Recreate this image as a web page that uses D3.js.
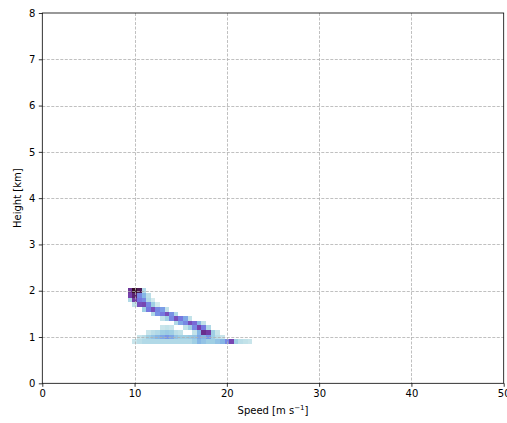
<!DOCTYPE html>
<html><head><meta charset="utf-8">
<script src="https://cdn.jsdelivr.net/npm/d3@7"></script>
<style>html,body{margin:0;padding:0;background:#fff;overflow:hidden}svg{display:block}</style>
</head><body>
<svg id="chart" width="507" height="423"></svg>
<script>
// ---- data ----
const speedBins = [9.5,10,10.5,11,11.5,12,12.5,13,13.5,14,14.5,15,15.5,16,16.5,17,17.5,18,18.5,19,19.5,20,20.5,21,21.5,22,22.5];
const heightBins = [2.0,1.9,1.8,1.7,1.6,1.5,1.4,1.3,1.2,1.1,1.0,0.9];
const row20 = [.75,1.0,.9,.15,0,0,0,0,0,0,0,0,0,0,0,0,0,0,0,0,0,0,0,0,0,0,0];
const row19 = [.7,.85,.45,.3,.12,0,0,0,0,0,0,0,0,0,0,0,0,0,0,0,0,0,0,0,0,0,0];
const row18 = [.15,.72,.5,.45,.15,.05,0,0,0,0,0,0,0,0,0,0,0,0,0,0,0,0,0,0,0,0,0];
const row17 = [0,.1,.65,.68,.45,.2,.05,0,0,0,0,0,0,0,0,0,0,0,0,0,0,0,0,0,0,0,0];
const row16 = [0,0,0,.2,.5,.65,.45,.38,.1,0,0,0,0,0,0,0,0,0,0,0,0,0,0,0,0,0,0];
const row15 = [0,0,0,0,0,.15,.42,.5,.65,.42,.15,0,0,0,0,0,0,0,0,0,0,0,0,0,0,0,0];
const row14 = [0,0,0,0,0,0,0,.1,.2,.45,.65,.5,.35,.1,0,0,0,0,0,0,0,0,0,0,0,0,0];
const row13 = [0,0,0,0,0,0,0,0,0,0,.15,.35,.45,.65,.55,.3,.1,0,0,0,0,0,0,0,0,0,0];
const row12 = [0,0,0,0,0,0,0,.08,.1,.08,0,0,.1,.2,.45,.7,.5,.15,0,0,0,0,0,0,0,0,0];
const row11 = [0,0,0,0,.08,.12,.15,.2,.22,.2,.12,.1,0,0,.1,.3,.78,.72,.2,.08,0,0,0,0,0,0,0];
const row10 = [0,0,.08,.12,.2,.25,.3,.35,.4,.35,.25,.2,.2,.22,.25,.35,.3,.4,.2,.12,.08,0,0,0,0,0,0];
const row09 = [0,.08,.12,.15,.15,.15,.15,.15,.15,.15,.15,.15,.15,.15,.2,.3,.25,.2,.2,.25,.3,.45,.68,.2,.12,.1,.08];
const densityRows = [row20,row19,row18,row17,row16,row15,row14,row13,row12,row11,row10,row09];
const xTicks = [0,10,20,30,40,50];
const yTicks = [0,1,2,3,4,5,6,7,8];
const xLabel = "Speed [m s";
const yLabel = "Height [km]";
const speedHalf = 0.25, heightHalf = 0.05;

// ---- layout ----
const svg = d3.select("#chart");
const L = 42.3, R = 503.7, T = 13, B = 383.3;
const x = d3.scaleLinear().domain([0,50]).range([L,R]);
const y = d3.scaleLinear().domain([0,8]).range([B,T]);

// cmocean "dense"-like colormap
const denseStops = ["#e6f1f1","#c2e2e9","#9fcfe4","#86b6e5","#7897e6","#7678e0","#7a5ccb","#7640ac","#662a85","#4d1a55","#360e24"];
const color = d3.scaleLinear().domain(d3.range(11).map(i=>i/10)).range(denseStops).interpolate(d3.interpolateRgb).clamp(true);

const cells = [];
densityRows.forEach((row, r) => row.forEach((v, c) => { if (v > 0) cells.push({s: speedBins[c], h: heightBins[r], v}); }));

svg.append("g").selectAll("rect").data(cells).join("rect")
  .attr("x", d => x(d.s - speedHalf))
  .attr("y", d => y(d.h + heightHalf))
  .attr("width", d => x(d.s + speedHalf) - x(d.s - speedHalf))
  .attr("height", d => y(d.h - heightHalf) - y(d.h + heightHalf))
  .attr("fill", d => color(d.v))
  .attr("shape-rendering", "crispEdges");

// grid
const grid = svg.append("g").attr("stroke", "#b0b0b0").attr("stroke-width", 0.8).attr("stroke-dasharray", "3,1.5");
grid.selectAll(".gx").data(xTicks.slice(1, -1)).join("line")
  .attr("x1", d => Math.round(x(d)) + 0.5).attr("x2", d => Math.round(x(d)) + 0.5).attr("y1", T).attr("y2", B);
grid.selectAll(".gy").data(yTicks.slice(1, -1)).join("line")
  .attr("y1", d => Math.round(y(d)) + 0.5).attr("y2", d => Math.round(y(d)) + 0.5).attr("x1", L).attr("x2", R);

// axes
const fontFam = "DejaVu Sans, sans-serif";
const xAxis = svg.append("g").attr("transform", `translate(0,${B})`)
  .call(d3.axisBottom(x).tickValues(xTicks).tickSize(3.5).tickPadding(3.5).tickFormat(d3.format("d")));
const yAxis = svg.append("g").attr("transform", `translate(${L},0)`)
  .call(d3.axisLeft(y).tickValues(yTicks).tickSize(3.5).tickPadding(3.5).tickFormat(d3.format("d")));
[xAxis, yAxis].forEach(a => {
  a.select(".domain").remove();
  a.selectAll("line").attr("stroke", "#000").attr("stroke-width", 0.8);
  a.selectAll("text").attr("font-family", fontFam).attr("font-size", 10).attr("fill", "#000");
});

// frame
svg.append("rect").attr("x", L).attr("y", T).attr("width", R - L).attr("height", B - T)
  .attr("fill", "none").attr("stroke", "#000").attr("stroke-width", 0.8);

// labels
const xl = svg.append("text").attr("x", (L + R) / 2).attr("y", 414).attr("text-anchor", "middle")
  .attr("font-family", fontFam).attr("font-size", 10).attr("fill", "#000");
xl.append("tspan").text(xLabel);
xl.append("tspan").attr("font-size", 7).attr("dy", -4).text("\u22121");
xl.append("tspan").attr("dy", 4).text("]");

svg.append("text").attr("transform", `translate(21,${(T + B) / 2}) rotate(-90)`).attr("text-anchor", "middle")
  .attr("font-family", fontFam).attr("font-size", 10).attr("fill", "#000").text(yLabel);
</script>
</body></html>
